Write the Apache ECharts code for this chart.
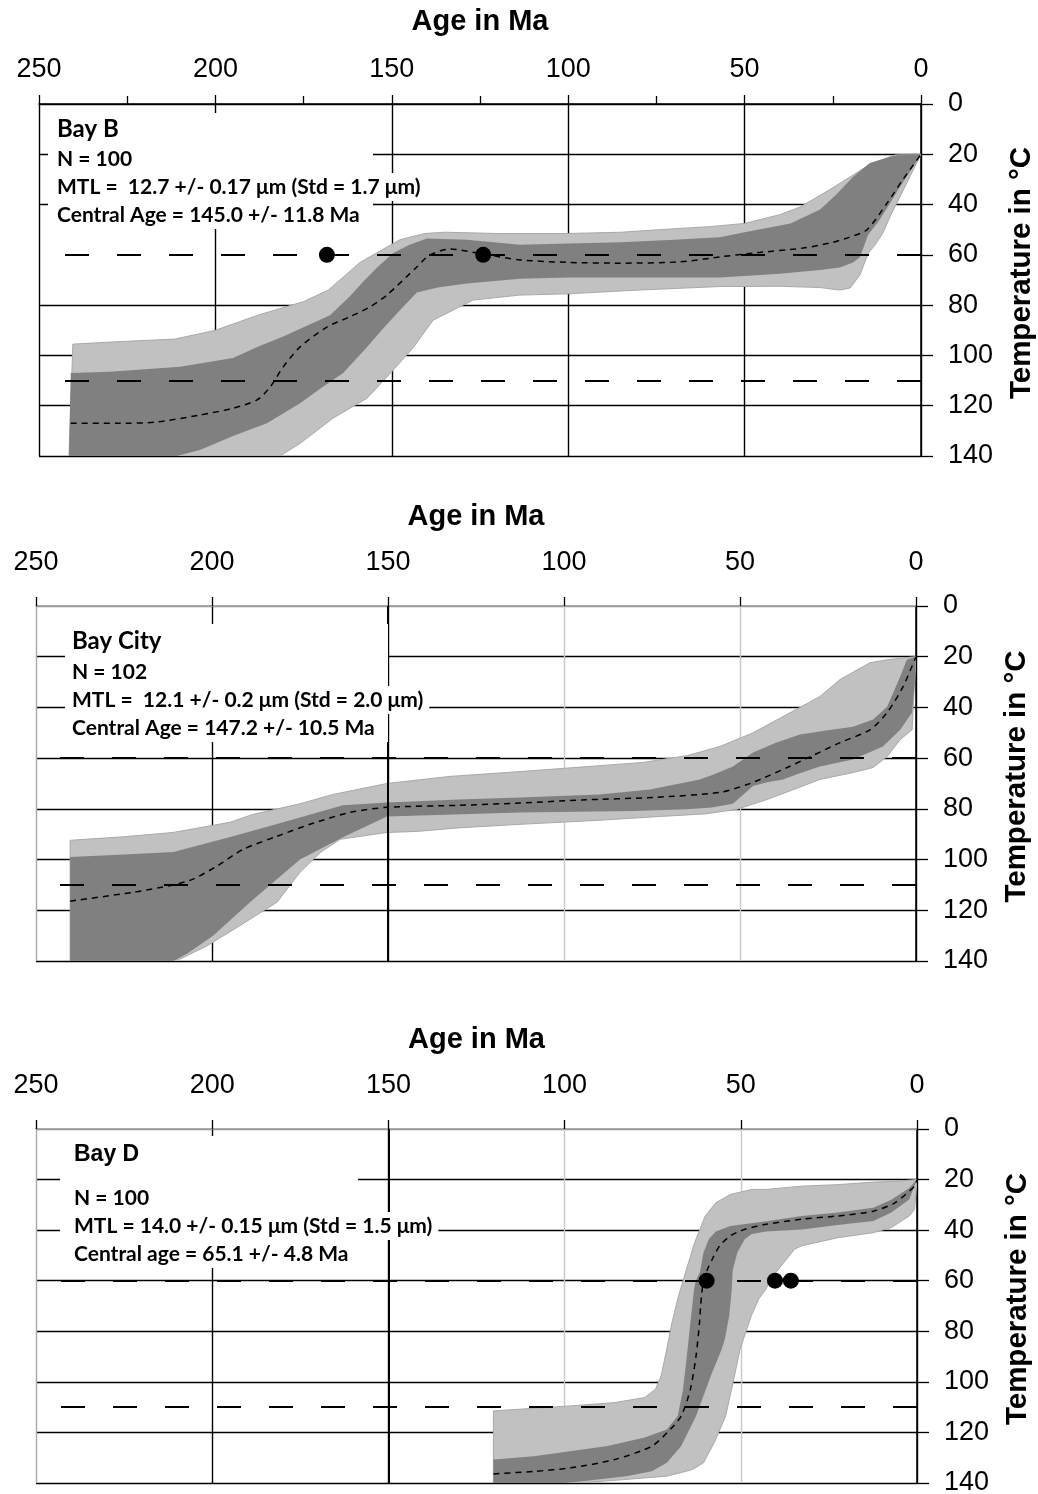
<!DOCTYPE html>
<html><head><meta charset="utf-8">
<script src="https://cdn.jsdelivr.net/npm/echarts@6/dist/echarts.min.js"></script>
<style>html,body{margin:0;padding:0;background:#fff}#c{width:1038px;height:1494px}</style>
</head><body><div id="c"></div>
<script>
// ---------- DATA (Age in Ma, Temperature in °C) ----------
// Bay B
const bayB_lightUpper = [[240.4,95.5],[227,94.5],[211.5,93.5],[200,90],[188,84],[175,78.6],[168,74],[164.7,70],[159,63],[154,59],[147.7,54],[140.6,51.5],[135,51],[120,51.5],[100,51.5],[85,51],[71,49.7],[60,48.8],[50,47.5],[40,44],[34.3,41],[25.8,34],[20.1,29],[14.5,24],[7.4,20.3],[3.1,20],[0,20]];
const bayB_lightLower = [[0,20],[3,28.5],[6,37],[8.5,44],[10.8,51.3],[13,56],[15,59.5],[17.3,68],[20.1,73.2],[23,74],[28.6,73],[40,72.5],[57,72.6],[80,74],[100,75.5],[113.7,76],[127,78],[138.3,86],[144,97],[149.7,106],[157,117],[166.7,125],[176,135],[181.7,140],[241.5,140]];
const bayB_darkUpper = [[241,107],[229.9,106.5],[210,104.5],[195,101],[188,96.5],[180.8,92.5],[167.5,84],[162,76.7],[158,70.5],[154,64.8],[149.7,59.4],[145,56],[140,53.5],[128.7,54],[113.7,56],[100,55.5],[85,55],[70,54],[57,53],[50,51],[37,47.5],[28.6,42],[24,36],[19.3,29],[14.5,23.5],[8.8,21],[5.1,20],[0,20]];
const bayB_darkLower = [[0,20],[3,26.6],[6,33],[9,40],[12,46.6],[15,52],[17.3,61],[19.3,63],[23,65],[28.6,66],[40,67.5],[57,69],[80,69],[100,69],[113.7,69.5],[128.7,71.4],[137,73],[142.9,75],[147.7,82],[152,88.6],[157,96.6],[163.8,107],[170,113],[176,119],[185.4,127],[195,132],[204.4,137.6],[211,140],[241.5,140]];
const bayB_median = [[241,127],[227.9,127],[216.6,126.5],[204.4,123.7],[195,121],[188.2,117.7],[184.5,112.6],[180.8,104.6],[176,96.6],[168.4,88.7],[162,84.7],[156.2,80.7],[151.4,76],[142.9,64.8],[139.2,60],[133.5,57.7],[124,59.7],[113.7,62],[100,63],[85.3,63.3],[68.3,62.8],[57,60.8],[47.6,59.3],[33.4,57.3],[25.8,55.3],[20.1,52.9],[15.3,50],[9.6,39.4],[5.1,30],[0,20]];
const bayB_dots = [[168.4,60],[124.1,60]];
const bayB_info = ['Bay B','N = 100','MTL =  12.7 +/- 0.17 μm (Std = 1.7 μm)','Central Age = 145.0 +/- 11.8 Ma'];

// Bay City
const bayC_lightUpper = [[240.3,92.4],[225,91],[211,89.3],[194.9,85.3],[188.4,82.2],[175,78],[165.6,74.3],[150.3,70],[132.4,67.2],[112.5,65.3],[95,63.5],[77.6,61.7],[65,59],[55.7,55.4],[46.3,50],[33,40],[27.3,35.7],[21.6,29],[13.1,22.4],[8.2,21.2],[0.3,20],[0,20]];
const bayC_lightLower = [[0,20],[0.4,30],[0.8,40],[1.1,48.8],[4.5,52.7],[8.2,59.4],[12.2,63.7],[17.9,65.7],[27.3,68.4],[35,72.5],[42.3,76.3],[50.9,80.2],[60,82],[72.7,83],[90,84.5],[112.5,86.1],[130,87.5],[141.8,88.9],[150.3,89.3],[163.6,92],[169.3,97.3],[175,105],[181.5,116.8],[192,126],[201.4,134],[209,139.2],[212.8,140],[240.3,140]];
const bayC_darkUpper = [[240.3,99],[225,98],[211,97],[194,90.8],[179.8,85.3],[162.8,78.6],[150.3,77.5],[130,76.3],[112.5,75.5],[90,74.3],[75.6,72.4],[61.4,68.4],[57.7,66.5],[52,63.3],[46.3,57.8],[40,54],[33,50.7],[25,49],[17.9,47.6],[12.2,44.8],[8.2,39.7],[4.5,27.9],[2.6,21.2],[0,20]];
const bayC_darkLower = [[0,20],[0.5,32],[1.1,42],[4.5,48.8],[9.4,55.4],[17.9,60.5],[27.3,63.3],[33,66],[38,68.5],[42.3,69.5],[46.3,71],[52,78],[58,79.5],[65,80.2],[80,80.8],[112.5,81.4],[150.3,83],[162.8,91.2],[175,100],[181.5,107.7],[189.2,116.8],[199.7,130],[207,137],[211,140],[240.3,140]];
const bayC_median = [[240.3,116.4],[222.4,112.9],[211,110],[205.4,107.7],[198.6,102.6],[191.2,96],[181.5,90.8],[172.2,86.1],[160.8,81.4],[150.3,79.4],[130,78.6],[112.5,77.7],[95,76.5],[74.7,75.5],[55.7,73.5],[48,70.4],[44.3,68.4],[36.6,63.7],[30,59.4],[21.6,53.9],[13,48.8],[8.2,42],[3.7,31.9],[0.3,21],[0,20]];
const bayC_dots = [];
const bayC_info = ['Bay City','N = 102','MTL =  12.1 +/- 0.2 μm (Std = 2.0 μm)','Central Age = 147.2 +/- 10.5 Ma'];

// Bay D
const bayD_lightUpper = [[120.2,111.5],[98.2,109.5],[85.7,108.2],[77.3,106.2],[74.2,102.9],[72.6,97.6],[71,87],[69.5,76.4],[67.9,67.2],[66.4,60],[63.1,44.9],[60.1,34.4],[57.1,29.2],[53,25.9],[46.9,23.9],[42.8,23.9],[32.7,22.6],[22.5,22],[12.4,21],[6.3,20.7],[0,20]];
const bayD_lightLower = [[0,20],[0.7,31.8],[2.2,34.4],[7.3,39],[12.4,41],[22.5,43],[32.7,46.2],[34.7,47.5],[37.8,52.8],[41.8,60],[42.8,63.2],[44.9,67.2],[47,73.8],[50.2,87],[52.2,100.3],[54.3,113.5],[57.5,124],[60.6,132],[63.7,134.7],[71,137.3],[83.6,138.7],[93,139.7],[98.2,140],[120.2,140]];
const bayD_darkUpper = [[120.2,130.7],[108.7,129.4],[87.8,125.4],[77.3,122],[71,118.8],[67.9,113.5],[66.4,103],[65.3,89.7],[64.3,76.4],[63.3,64],[62.8,60],[61.6,56.7],[60.6,48.9],[59.1,43.6],[57.1,40.5],[53,38.4],[42.8,36.5],[32.7,34.4],[22.5,33],[12.4,31.1],[7.3,28],[2.2,23.3],[0,20]];
const bayD_darkLower = [[0,20],[2.2,27.9],[7.3,33],[12.4,36.4],[22.5,38],[32.7,39.7],[42.8,40.5],[46.9,41.5],[48.9,43.6],[51,48.9],[52.3,56],[52.6,64],[53.3,74],[54.5,83],[55.4,87],[58.5,97.6],[62.7,113.5],[66.9,125.4],[71,132],[75.2,135.4],[82.5,137.3],[95,139.3],[100,140],[120.2,140]];
const bayD_median = [[120.2,136.4],[108.7,135.4],[98.2,134],[85.7,130.7],[75.2,125.4],[70,118.8],[66.9,113.5],[64.3,102.9],[62.7,89.7],[61.7,76.4],[61.4,70],[60.8,62],[59.6,56],[58.1,51.5],[56,46.2],[53,42.3],[48.9,39.7],[42.8,37.7],[32.7,35.7],[22.5,34.4],[12.4,32.5],[6.3,29.2],[0.7,22.6],[0,20]];
const bayD_dots = [[59.7,60],[40.3,60],[35.8,60]];
const bayD_info = ['Bay D','N = 100','MTL = 14.0 +/- 0.15 μm (Std = 1.5 μm)','Central age = 65.1 +/- 4.8 Ma'];

const refTemps = [60, 110];
const boldAges = [150];

// ---------- LAYOUT / STYLE ----------
const AX = 'Liberation Sans';
const TX = 'Lato';
const panels = [
  {data:[bayB_lightUpper,bayB_lightLower,bayB_darkUpper,bayB_darkLower,bayB_median,bayB_dots], info:bayB_info,
   grid:{left:39, top:104, width:882, height:352}, minor:true, topColor:'#000', boldV:false,
   vColors:['#000','#000','#000','#000','#000','#000'],
   hColors:['#000','#000','#000','rgba(0,0,0,0)','#000','#000','#000','#000'],
   nameGapX:68, labelMarginX:21, nameGapY:86,
   box:{left:48, top:113, pad:9, w:316, bH:32, lH:28, boldFont:TX, boldSize:24, spacer:0}},
  {data:[bayC_lightUpper,bayC_lightLower,bayC_darkUpper,bayC_darkLower,bayC_median,bayC_dots], info:bayC_info,
   grid:{left:36, top:606, width:880, height:355}, minor:false, topColor:'#999', boldV:true,
   vColors:['#000','#c8c8c8','#c8c8c8','#000','#000','#aaa'],
   hColors:['#999','#000','#000','#000','#000','#000','#000','#000'],
   nameGapX:75, labelMarginX:30, nameGapY:86,
   box:{left:65, top:624, pad:7, w:316, bH:34, lH:28, boldFont:TX, boldSize:24, spacer:0}},
  {data:[bayD_lightUpper,bayD_lightLower,bayD_darkUpper,bayD_darkLower,bayD_median,bayD_dots], info:bayD_info,
   grid:{left:36, top:1129, width:881, height:354}, minor:false, topColor:'#999', boldV:true,
   vColors:['#000','#c8c8c8','#c8c8c8','#000','#000','#aaa'],
   hColors:['#999','#000','#000','#000','#000','#000','#000','#000'],
   nameGapX:75, labelMarginX:30, nameGapY:86,
   box:{left:60, top:1136, pad:14, w:284, bH:38, lH:28, boldFont:AX, boldSize:23, spacer:10}}
];

function bandSeries(gi, upper, lower, fill, stroke, z) {
  const poly = upper.concat(lower);
  return {
    type:'custom', xAxisIndex:gi, yAxisIndex:gi, z:z, silent:true, clip:true,
    data: poly, encode:{x:0, y:1}, animation:false,
    renderItem: function(params, api) {
      if (params.dataIndex !== 0) return null;
      const pts = poly.map(function(p){ return api.coord(p); });
      return {type:'polygon', shape:{points:pts},
        style:{fill:fill, stroke: stroke || 'none', lineWidth: stroke ? 1 : 0}};
    }
  };
}

const grids = [], xAxes = [], yAxes = [], series = [], titles = [];
panels.forEach(function(p, i){
  grids.push(Object.assign({containLabel:false, outerBoundsMode:'none'}, p.grid));
  xAxes.push({
    gridIndex:i, type:'value', position:'top', inverse:true, min:0, max:250, interval:50,
    name:'Age in Ma', nameLocation:'middle', nameGap:p.nameGapX,
    nameTextStyle:{fontFamily:AX, fontWeight:'bold', fontSize:29, color:'#000'},
    axisLine:{show:true, onZero:false, lineStyle:{color:p.topColor, width:1.5}},
    axisTick:{show:true, length:9, lineStyle:{color:'#000', width:1.3}},
    minorTick:{show:p.minor, splitNumber:2, length:8, lineStyle:{color:'#000', width:1.3}},
    minorSplitLine:{show:false},
    axisLabel:{fontFamily:AX, fontSize:27, color:'#000', margin:p.labelMarginX},
    splitLine:{show:true, lineStyle:{color:p.vColors, width:1.4}}
  });
  yAxes.push({
    gridIndex:i, type:'value', position:'right', inverse:true, min:0, max:140, interval:20,
    name:'Temperature in °C', nameLocation:'middle', nameRotate:90, nameGap:p.nameGapY,
    nameTextStyle:{fontFamily:AX, fontWeight:'bold', fontSize:29.5, color:'#000', padding:[0,0,0,14]},
    axisLine:{show:true, onZero:false, lineStyle:{color:'#000', width:1.5}},
    axisTick:{show:true, length:12, lineStyle:{color:'#000', width:1.3}},
    axisLabel:{fontFamily:AX, fontSize:27, color:'#000', margin:27},
    splitLine:{show:true, lineStyle:{color:p.hColors, width:1.4}}
  });
  const d = p.data;
  series.push(bandSeries(i, d[0], d[1], '#c1c1c1', '#a9a9a9', 2));
  series.push(bandSeries(i, d[2], d[3], '#808080', null, 3));
  series.push({
    type:'line', xAxisIndex:i, yAxisIndex:i, z:4, data:d[4], showSymbol:false, symbol:'none',
    smooth:0.25, animation:false, silent:true,
    lineStyle:{color:'#000', width:1.5, type:[6,5]},
    markLine:{silent:true, symbol:'none', animation:false, label:{show:false},
      lineStyle:{color:'#000', width:2.2, type:[24,28]},
      data: refTemps.map(function(t){ return {yAxis:t}; })}
  });
  const sc = {
    type:'scatter', xAxisIndex:i, yAxisIndex:i, z:5, data:d[5], symbol:'circle', symbolSize:16,
    itemStyle:{color:'#000', opacity:1}, animation:false, silent:true
  };
  if (p.boldV) {
    sc.markLine = {silent:true, symbol:'none', animation:false, label:{show:false},
      lineStyle:{color:'#000', width:2, type:'solid'},
      data: boldAges.map(function(a){ return {xAxis:a}; })};
  }
  series.push(sc);
  const b = p.box;
  const base = {fontFamily:TX, fontSize:21, color:'#000', backgroundColor:'#fff', lineHeight:b.lH, height:b.lH, padding:[0,0,0,b.pad]};
  const rich = {
    b: Object.assign({}, base, {fontFamily:b.boldFont, fontWeight:'bold', fontSize:b.boldSize, lineHeight:b.bH, height:b.bH, width:b.w}),
    n: Object.assign({}, base, {width:b.w}),
    m: Object.assign({}, base, {padding:[0,6,0,b.pad]}),
    c: Object.assign({}, base, {width:b.w}),
    s: Object.assign({}, base, {lineHeight:b.spacer, height:b.spacer, width:b.w, fontSize:8})
  };
  const lines = ['{b|' + p.info[0] + '}'];
  if (b.spacer) lines.push('{s| }');
  lines.push('{n|' + p.info[1] + '}', '{m|' + p.info[2] + '}', '{c|' + p.info[3] + '}');
  titles.push({left:b.left, top:b.top, padding:0, itemGap:0, z:10,
    text: lines.join('\n'), textStyle:{rich:rich}});
});

const chart = echarts.init(document.getElementById('c'), null, {renderer:'canvas'});
chart.setOption({
  animation:false, backgroundColor:'#fff',
  title:titles, grid:grids, xAxis:xAxes, yAxis:yAxes, series:series
});
</script></body></html>
